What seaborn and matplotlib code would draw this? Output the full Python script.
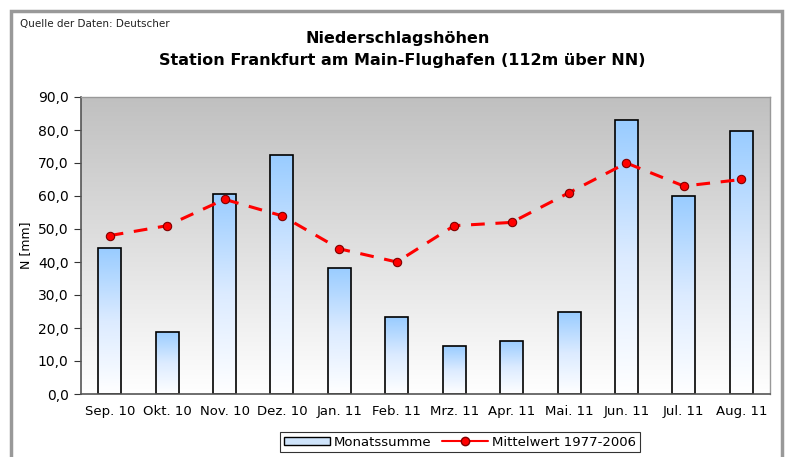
import numpy as np
import pandas as pd
import matplotlib
matplotlib.use('Agg')
import matplotlib.pyplot as plt
import seaborn as sns
from matplotlib.colors import LinearSegmentedColormap
from matplotlib.patches import Rectangle, Patch
from matplotlib.lines import Line2D
from matplotlib.ticker import FuncFormatter

# Monatswerte Niederschlag
monate = ['Sep. 10', 'Okt. 10', 'Nov. 10', 'Dez. 10', 'Jan. 11', 'Feb. 11',
          'Mrz. 11', 'Apr. 11', 'Mai. 11', 'Jun. 11', 'Jul. 11', 'Aug. 11']
monatssumme = [44.2, 18.8, 60.7, 72.4, 38.3, 23.2, 14.5, 16.2, 24.8, 82.9, 59.9, 79.7]
mittelwert = [48, 51, 59, 54, 44, 40, 51, 52, 61, 70, 63, 65]

df = pd.DataFrame({'Monat': monate, 'Monatssumme': monatssumme, 'Mittelwert': mittelwert})

sns.set_style('white', {'text.color': 'black', 'axes.labelcolor': 'black',
                        'xtick.color': 'black', 'ytick.color': 'black'})
plt.rcParams['font.family'] = ['DejaVu Sans']

fig = plt.figure(figsize=(7.87, 4.57), dpi=100)
ax = fig.add_axes([81/787, 1 - 394/457, (770 - 81)/787, (394 - 97)/457])

sns.barplot(data=df, x='Monat', y='Monatssumme', ax=ax, width=0.4,
            color='#99ccff', edgecolor='black', linewidth=1.2, zorder=2)

# Farbverlauf in den Balken
bar_cmap = LinearSegmentedColormap.from_list('bar', ['#ffffff', '#dcebff', '#99ccff'])
grad = np.linspace(0, 1, 256).reshape(-1, 1)
for p in ax.patches:
    x0, y0 = p.get_x(), p.get_y()
    w, h = p.get_width(), p.get_height()
    im = ax.imshow(grad, cmap=bar_cmap, origin='lower', aspect='auto',
                   extent=[x0, x0 + w, y0, y0 + h], zorder=2.1)
    im.set_clip_path(p)
    p.set_facecolor('none')
    p.set_zorder(2.2)

# Hintergrund-Verlauf
bg_cmap = LinearSegmentedColormap.from_list('bg', ['#ffffff', '#c0c0c0'])
ax.imshow(grad, cmap=bg_cmap, origin='lower', aspect='auto',
          extent=[-0.5, 11.5, 0, 90], zorder=0)

sns.lineplot(data=df, x='Monat', y='Mittelwert', ax=ax, color='#ff0000',
             linewidth=2.2, marker='o', markersize=6, markerfacecolor='#ff0000',
             markeredgecolor='#800000', markeredgewidth=0.8, zorder=3, sort=False)
mline = ax.lines[-1]
mline.set_dashes((4.5, 3.5))
mline.set_dash_capstyle('butt')

ax.set_xlim(-0.5, 11.5)
ax.set_ylim(0, 90)
ax.set_yticks(np.arange(0, 91, 10))
ax.yaxis.set_major_formatter(FuncFormatter(lambda v, _: f'{v:.1f}'.replace('.', ',')))
ax.set_xticks(range(12))
ax.set_xticklabels(monate)
ax.set_xticks(np.arange(-0.5, 12, 1), minor=True)
ax.tick_params(axis='x', which='major', length=0, pad=8, labelsize=9.5)
ax.tick_params(axis='x', which='minor', length=5, width=0.8, color='#333333', direction='out')
ax.tick_params(axis='y', length=5, width=0.8, color='#333333', direction='out', left=True,
               labelsize=10, pad=4)
ax.set_xlabel('')
ax.set_ylabel('N [mm]', fontsize=9, labelpad=4)

for s in ['left', 'bottom']:
    ax.spines[s].set_color('#555555')
    ax.spines[s].set_linewidth(1.2)
for s in ['top', 'right']:
    ax.spines[s].set_color('#999999')
    ax.spines[s].set_linewidth(1.0)

fig.text(398/787, 1 - 38/457, 'Niederschlagshöhen', ha='center', va='center',
         fontsize=11.5, fontweight='bold')
fig.text(402/787, 1 - 60/457, 'Station Frankfurt am Main-Flughafen (112m über NN)',
         ha='center', va='center', fontsize=11.5, fontweight='bold')
fig.text(20/787, 1 - 24/457, 'Quelle der Daten: Deutscher', ha='left', va='center',
         fontsize=7.5, color='#222222')

# Rahmen um die Grafik
fig.patches.append(Rectangle((11/787, -0.05), (782 - 11)/787, 1.05 - 11/457,
                             transform=fig.transFigure, fill=False,
                             edgecolor='#999999', linewidth=2.5))

handles = [Patch(facecolor='#cfe4fb', edgecolor='black', linewidth=1),
           Line2D([], [], color='#ff0000', linewidth=1.5, marker='o', markersize=6,
                  markerfacecolor='#ff0000', markeredgecolor='#800000')]
leg = fig.legend(handles, ['Monatssumme', 'Mittelwert 1977-2006'], ncol=2,
                 loc='center', bbox_to_anchor=(460/787, 1 - 442/457), fontsize=9.5,
                 frameon=True, fancybox=False, edgecolor='black', borderpad=0.25,
                 handlelength=3.5, handleheight=0.6, columnspacing=0.8, handletextpad=0.3)
leg.get_frame().set_linewidth(0.8)

fig.savefig('out.png', dpi=100)
